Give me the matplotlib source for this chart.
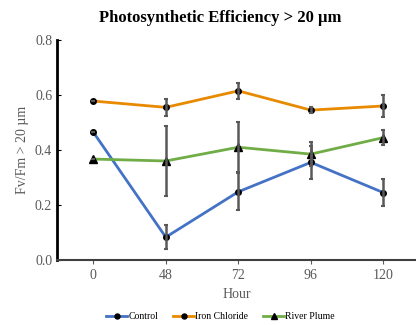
import matplotlib.pyplot as plt
import numpy as np

# Data
hours = ['0', '48', '72', '96', '120']
control = [0.465, 0.083, 0.248, 0.355, 0.245]
control_err = [0.0, 0.044, 0.067, 0.06, 0.05]
iron = [0.578, 0.555, 0.615, 0.545, 0.56]
iron_err = [0.0, 0.032, 0.03, 0.012, 0.04]
river = [0.367, 0.36, 0.41, 0.385, 0.445]
river_err = [0.0, 0.128, 0.09, 0.043, 0.028]

plt.rcParams['font.family'] = ['Liberation Serif', 'DejaVu Serif']

fig = plt.figure(figsize=(4.16, 3.25), dpi=100)
ax = fig.add_axes([0.137, 0.2, 0.863, 0.677])

x = np.arange(len(hours))
series = [
    ('Control', control, control_err, '#4472C4', 'o'),
    ('Iron Chloride', iron, iron_err, '#E88A00', 'o'),
    ('River Plume', river, river_err, '#70AD47', '^'),
]
for name, vals, err, col, mk in series:
    ax.plot(x, vals, color=col, lw=2, marker=mk, ms=4 if mk == 'o' else 5.5,
            mfc='black', mec='black', label=name, zorder=3)
    ax.errorbar(x, vals, yerr=err, fmt='none', ecolor='#595959',
                elinewidth=1.8, capsize=1.5, capthick=1.5, zorder=4)

ax.set_xlim(-0.5, 4.45)
ax.set_ylim(0, 0.8)
ax.set_xticks(x)
ax.set_xticklabels(hours)
ax.set_yticks([0, 0.2, 0.4, 0.6, 0.8])
ax.set_yticklabels(['0.0', '0.2', '0.4', '0.6', '0.8'])
ax.tick_params(axis='both', colors='#595959', labelsize=10, length=3)
ax.tick_params(axis='y', direction='in', color='black')

for s in ['top', 'right']:
    ax.spines[s].set_visible(False)
ax.spines['left'].set_linewidth(2)
ax.spines['left'].set_color('black')
ax.spines['bottom'].set_linewidth(1.5)
ax.spines['bottom'].set_color('#404040')

fig.suptitle('Photosynthetic Efficiency > 20 µm', x=0.53, y=0.97,
             fontsize=12, fontweight='bold')
ax.set_xlabel('Hour', color='#595959', fontsize=10)
ax.set_ylabel('Fv/Fm > 20 µm', color='#595959', fontsize=10)

fig.legend(loc='lower center', bbox_to_anchor=(0.53, -0.015), ncol=3, frameon=False,
           fontsize=7, handlelength=2.2, handletextpad=0.1, columnspacing=1.5,
           markerscale=0.9)

fig.savefig('out.png', dpi=100)
